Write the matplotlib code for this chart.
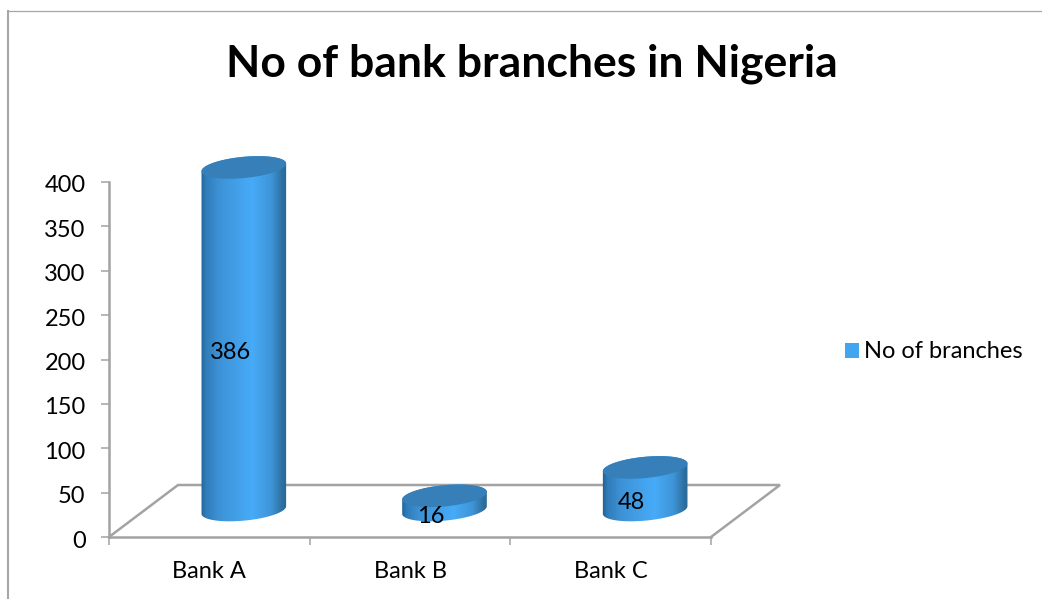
import numpy as np
import matplotlib
matplotlib.use("Agg")
import matplotlib.pyplot as plt
from matplotlib.colors import LinearSegmentedColormap
from matplotlib.lines import Line2D
from matplotlib.patches import Patch, PathPatch, Polygon
from matplotlib.path import Path
from matplotlib.transforms import ScaledTranslation

# chart data
categories = ["Bank A", "Bank B", "Bank C"]
branches = [386, 16, 48]
y_ticks = [0, 50, 100, 150, 200, 250, 300, 350, 400]
series_name = "No of branches"
chart_title = "No of bank branches in Nigeria"

# figure layout, in pixels
FIG_W, FIG_H = 1042, 599
AX_LEFT, AX_RIGHT, AX_TOP, AX_BOTTOM = 109, 711, 182, 537
X_PER_PX = len(categories) / (AX_RIGHT - AX_LEFT)
Y_PER_PX = (y_ticks[-1] - y_ticks[0]) / (AX_BOTTOM - AX_TOP)
DEPTH_X, DEPTH_Y = 69, 52
RADIUS_A, RADIUS_B, TILT = 42.5, 10.6, np.radians(5.5)

FONT_SIZE = 17
GREY = "#a3a3a3"
TOP_COLOR = "#367fb9"
LEGEND_COLOR = "#42a5f0"
body_cmap = LinearSegmentedColormap.from_list(
    "cylinder",
    [(0.0, "#1f5d8c"), (0.06, "#2f7cb8"), (0.22, "#3d92d6"), (0.6, "#47abf8"),
     (0.82, "#3f95d8"), (0.95, "#2c6f9f"), (1.0, "#2a6893")],
)

plt.rcParams["font.family"] = ["Lato", "DejaVu Sans"]

fig = plt.figure(figsize=(FIG_W / 100, FIG_H / 100), dpi=100)
ax = fig.add_axes([
    AX_LEFT / FIG_W,
    1 - AX_BOTTOM / FIG_H,
    (AX_RIGHT - AX_LEFT) / FIG_W,
    (AX_BOTTOM - AX_TOP) / FIG_H,
])


def ellipse_points(cx, cy, t):
    # tilted ellipse around a data point, radii given in pixels
    dx = RADIUS_A * np.cos(t) * np.cos(TILT) - RADIUS_B * np.sin(t) * np.sin(TILT)
    dy = RADIUS_A * np.cos(t) * np.sin(TILT) + RADIUS_B * np.sin(t) * np.cos(TILT)
    return np.column_stack([cx + dx * X_PER_PX, cy + dy * Y_PER_PX])


def draw_cylinder(pos, value):
    cx = pos + 0.5 + DEPTH_X / 2 * X_PER_PX
    base = (DEPTH_Y / 2 + 1) * Y_PER_PX
    top = base + value

    lower = ellipse_points(cx, base, np.linspace(np.pi, 2 * np.pi, 60))
    upper = ellipse_points(cx, top, np.linspace(0, np.pi, 60))
    outline = np.vstack([lower, upper, lower[:1]])
    body = PathPatch(Path(outline), facecolor="none", edgecolor="none", zorder=3,
                     clip_on=False)
    ax.add_patch(body)

    half = RADIUS_A * X_PER_PX * 1.02
    grad = ax.imshow(
        np.linspace(0, 1, 256).reshape(1, -1),
        cmap=body_cmap,
        aspect="auto",
        extent=[cx - half, cx + half, 0, top + 30],
        zorder=3,
    )
    # the cylinder rises above the 400 tick, so only clip to its own outline
    grad.set_clip_box(fig.bbox)
    grad.set_clip_path(body)

    cap = ellipse_points(cx, top, np.linspace(0, 2 * np.pi, 120))
    ax.add_patch(Polygon(cap, closed=True, facecolor=TOP_COLOR, edgecolor="none",
                         zorder=4, clip_on=False))

    # value label sits around the middle of the cylinder
    ax.text(pos + 0.5 + 21 * X_PER_PX, value / 2 + 15, str(value),
            ha="center", va="center", fontsize=FONT_SIZE, color="black", zorder=5)


# floor of the 3D plot
floor_x = [0, DEPTH_X * X_PER_PX, len(categories) + DEPTH_X * X_PER_PX, len(categories)]
floor_y = [0, DEPTH_Y * Y_PER_PX, DEPTH_Y * Y_PER_PX, 0]
ax.plot(floor_x, floor_y, color=GREY, lw=1.8, clip_on=False, zorder=2,
        solid_joinstyle="miter")

for i, v in enumerate(branches):
    draw_cylinder(i, v)

ax.set_xlim(0, len(categories))
ax.set_ylim(y_ticks[0], y_ticks[-1])
ax.patch.set_visible(False)

for side in ["top", "right"]:
    ax.spines[side].set_visible(False)
for side in ["left", "bottom"]:
    ax.spines[side].set_color(GREY)
    ax.spines[side].set_linewidth(1.8)

ax.set_yticks(y_ticks)
ax.set_xticks(range(len(categories) + 1))
ax.set_xticklabels([])
ax.set_xticks([i + 0.5 for i in range(len(categories))], categories, minor=True)
ax.tick_params(axis="y", length=5.8, width=1.1, color=GREY, labelsize=FONT_SIZE, pad=11)
ax.tick_params(axis="x", which="major", length=5.8, width=1.1, color=GREY)
ax.tick_params(axis="x", which="minor", length=0, labelsize=FONT_SIZE, pad=17)

# nudge the y tick labels down a little
nudge = ScaledTranslation(0, -2 / 100, fig.dpi_scale_trans)
for label in ax.get_yticklabels():
    label.set_transform(label.get_transform() + nudge)

fig.text(532 / FIG_W, 1 - 64 / FIG_H, chart_title, ha="center", va="center",
         fontsize=32, fontweight="bold", color="black")

legend_handle = Patch(facecolor=LEGEND_COLOR, edgecolor="none", label=series_name)
fig.legend(handles=[legend_handle], loc="center left",
           bbox_to_anchor=(845 / FIG_W, 1 - 352 / FIG_H), frameon=False,
           fontsize=FONT_SIZE, borderpad=0, borderaxespad=0, handlelength=0.6,
           handleheight=0.6, handletextpad=0.22, labelcolor="black")

# chart area border, only the top and left edges show
fig.add_artist(Line2D([8 / FIG_W, 8 / FIG_W], [0, 1 - 11 / FIG_H], color="#a6a6a6", lw=1.5))
fig.add_artist(Line2D([8 / FIG_W, 1], [1 - 11 / FIG_H, 1 - 11 / FIG_H], color="#a6a6a6", lw=0.9))

fig.savefig("out.png", dpi=100)
